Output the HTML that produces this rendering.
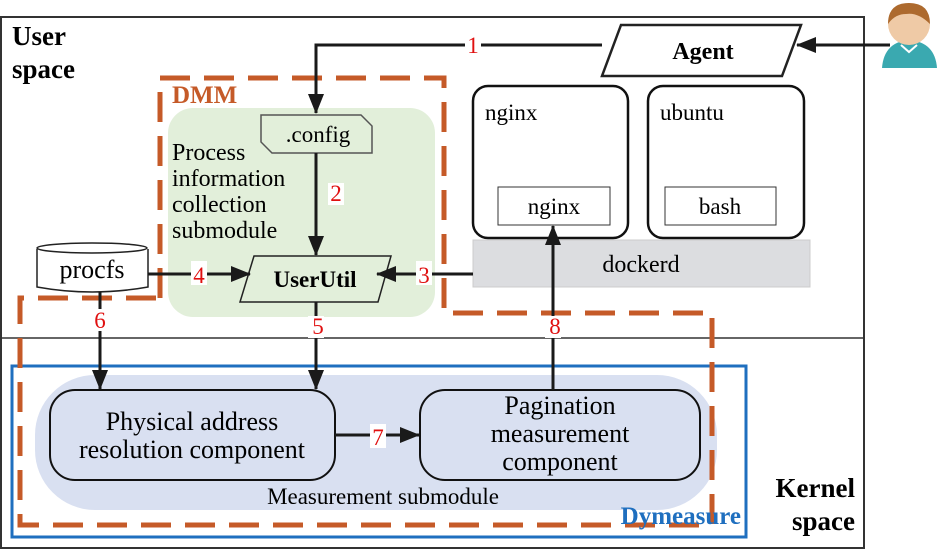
<!DOCTYPE html>
<html><head><meta charset="utf-8"><style>body{margin:0;background:#fff}svg{display:block}svg text{font-family:"Liberation Serif","Times New Roman","DejaVu Serif",serif}</style></head><body>
<svg width="951" height="550" viewBox="0 0 951 550" xmlns="http://www.w3.org/2000/svg" font-family="Liberation Serif, DejaVu Serif, serif">
<defs>
<marker id="b" markerWidth="20" markerHeight="16" refX="19" refY="8" orient="auto" markerUnits="userSpaceOnUse"><path d="M0,0 L20,8 L0,16 z" fill="#1a1a1a"/></marker></defs>
<rect x="1" y="17" width="863" height="531" fill="none" stroke="#333" stroke-width="2"/>
<line x1="1" y1="338" x2="864" y2="338" stroke="#333" stroke-width="1.5"/>
<text x="12" y="45" font-size="27" font-weight="bold">User</text>
<text x="12" y="78" font-size="27" font-weight="bold">space</text>
<text x="855" y="497" font-size="27" font-weight="bold" text-anchor="end">Kernel</text>
<text x="855" y="530" font-size="27" font-weight="bold" text-anchor="end">space</text>
<rect x="35" y="375" width="682" height="135" rx="60" fill="#d9e0f1"/>
<rect x="12" y="366" width="734" height="171" fill="none" stroke="#1f6fbf" stroke-width="3"/>
<rect x="168" y="108" width="267" height="209" rx="25" fill="#e2efda"/>
<path d="M160,298 V78 H444 V313 H712 V525 H20 V298 H160" fill="none" stroke="#c55a28" stroke-width="5" stroke-dasharray="30,14"/>
<text x="741" y="524" font-size="25" font-weight="bold" fill="#1f6fbf" text-anchor="end">Dymeasure</text>
<text x="172" y="103" font-size="25" font-weight="bold" fill="#c55a28">DMM</text>
<text x="172" y="160" font-size="24">Process</text>
<text x="172" y="186" font-size="24">information</text>
<text x="172" y="212" font-size="24">collection</text>
<text x="172" y="238" font-size="24">submodule</text>
<path d="M261,115 H361 L372,126 V153 H272 L261,142 Z" fill="#e2efda" stroke="#555" stroke-width="1.5"/>
<text x="318" y="142" font-size="23" text-anchor="middle">.config</text>
<path d="M254,256 H391 L378,302 H240 Z" fill="#e2efda" stroke="#222" stroke-width="1.5"/>
<text x="315" y="287" font-size="23" font-weight="bold" text-anchor="middle">UserUtil</text>
<path d="M37,249 V287 Q92,297 148,287 V249" fill="#fff" stroke="#222" stroke-width="1.5"/>
<ellipse cx="92" cy="248" rx="55" ry="5" fill="#fff" stroke="#222" stroke-width="1.5"/>
<text x="92" y="278" font-size="26" text-anchor="middle">procfs</text>
<path d="M621,25 H801 L782,76 H602 Z" fill="#fff" stroke="#222" stroke-width="2.5"/>
<text x="703" y="59" font-size="24" font-weight="bold" text-anchor="middle">Agent</text>
<path d="M882,68 Q884,42 909,40 Q935,42 937,68 Z" fill="#3aa9b0"/>
<circle cx="909" cy="24" r="21" fill="#efcaa6"/>
<path d="M888,24 Q888,3 909,3 Q930,3 930,24 Q918,12 906,14 Q895,14 888,24 Z" fill="#ad6a2e"/>
<path d="M901,45 L909,52 L917,45" fill="none" stroke="#fff" stroke-width="2"/>
<rect x="473" y="86" width="155" height="152" rx="15" fill="#fff" stroke="#111" stroke-width="2.5"/>
<rect x="648" y="86" width="156" height="152" rx="15" fill="#fff" stroke="#111" stroke-width="2.5"/>
<text x="485" y="120" font-size="23">nginx</text>
<text x="660" y="120" font-size="23">ubuntu</text>
<rect x="498" y="187" width="112" height="38" fill="#fff" stroke="#333" stroke-width="1"/>
<rect x="665" y="187" width="111" height="38" fill="#fff" stroke="#333" stroke-width="1"/>
<text x="554" y="214" font-size="23" text-anchor="middle">nginx</text>
<text x="720" y="214" font-size="23" text-anchor="middle">bash</text>
<rect x="473" y="240" width="337" height="47" fill="#dcdde0" stroke="#ccc"/>
<text x="641" y="272" font-size="24" text-anchor="middle">dockerd</text>
<rect x="50" y="390" width="285" height="90" rx="25" fill="#d9e0f1" stroke="#111" stroke-width="2"/>
<rect x="420" y="390" width="280" height="90" rx="25" fill="#d9e0f1" stroke="#111" stroke-width="2"/>
<text x="192" y="430" font-size="26" text-anchor="middle">Physical address</text>
<text x="192" y="458" font-size="26" text-anchor="middle">resolution component</text>
<text x="560" y="414" font-size="26" text-anchor="middle">Pagination</text>
<text x="560" y="442" font-size="26" text-anchor="middle">measurement</text>
<text x="560" y="470" font-size="26" text-anchor="middle">component</text>
<text x="383" y="504" font-size="23" text-anchor="middle">Measurement submodule</text>
<g stroke="#1a1a1a" stroke-width="3" fill="none">
<path d="M602,45 H316 V113" marker-end="url(#b)"/>
<path d="M890,45 H797" marker-end="url(#b)"/>
<path d="M316,153 V255" marker-end="url(#b)"/>
<path d="M148,274 H250" marker-end="url(#b)"/>
<path d="M473,274 H377" marker-end="url(#b)"/>
<path d="M316,302 V389" marker-end="url(#b)"/>
<path d="M100,292 V389" marker-end="url(#b)"/>
<path d="M553,390 V226" marker-end="url(#b)"/>
<path d="M335,435 H419" marker-end="url(#b)"/>
</g>
<g font-size="23" fill="#e01010" text-anchor="middle">
<rect x="465" y="33" width="16" height="22" fill="#fff"/><text x="473" y="53">1</text>
<rect x="328" y="183" width="16" height="22" fill="#fff"/><text x="336" y="201">2</text>
<rect x="416" y="261" width="16" height="24" fill="#fff"/><text x="424" y="283">3</text>
<rect x="191" y="261" width="16" height="24" fill="#fff"/><text x="199" y="283">4</text>
<rect x="308" y="316" width="16" height="22" fill="#fff"/><text x="318" y="334">5</text>
<rect x="92" y="309" width="16" height="22" fill="#fff"/><text x="100" y="328">6</text>
<rect x="370" y="424" width="16" height="24" fill="#fff"/><text x="378" y="445">7</text>
<rect x="545" y="316" width="16" height="22" fill="#fff"/><text x="555" y="334">8</text>
</g>
</svg>
</body></html>
